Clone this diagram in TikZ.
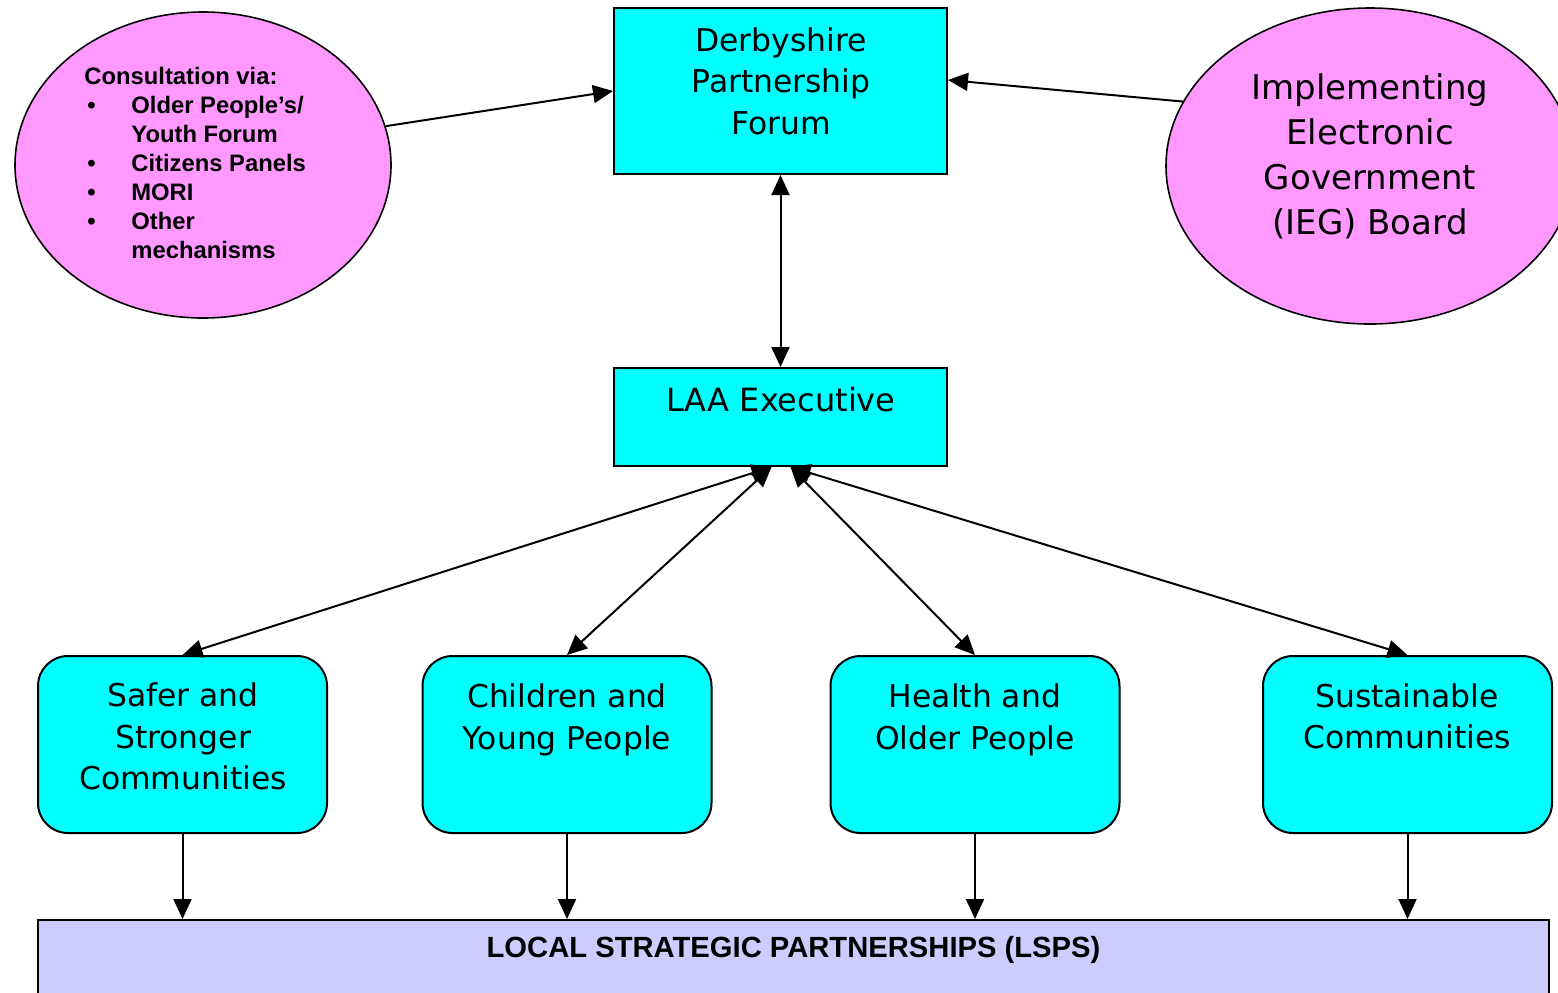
\documentclass[tikz,border=0pt]{standalone}
\usepackage{fontspec}
\setmainfont{DejaVu Sans}
\newfontfamily\arialbold{Liberation Sans}
\usetikzlibrary{shapes.geometric,arrows.meta}
\definecolor{boxcyan}{RGB}{0,255,255}
\definecolor{pinkfill}{HTML}{FF99FF}
\definecolor{lspfill}{HTML}{CCCCFF}

\begin{document}
\begin{tikzpicture}[x=0.5pt, y=-0.5pt,
	box/.style={draw, fill=boxcyan, line width=1pt, inner sep=0pt},
	theme/.style={box, rounded corners=15pt, minimum width=144.5pt, minimum height=88.5pt},
	oval/.style={ellipse, draw, fill=pinkfill, line width=0.8pt, inner sep=0pt},
	txt/.style={align=center, inner sep=0pt, font=\fontsize{15.7}{20.7}\selectfont},
	link/.style={line width=1pt, -{Triangle[length=10pt,width=9pt]}},
	twoway/.style={line width=1pt, {Triangle[length=10pt,width=9pt]}-{Triangle[length=10pt,width=9pt]}}]
	\useasboundingbox (0,0) rectangle (1558,992);

	\node[oval, minimum width=188pt, minimum height=153pt] (consult) at (203,165) {};
	\node[oval, minimum width=204pt, minimum height=158pt] (ieg) at (1370,166) {};
	\node[box, minimum width=166.5pt, minimum height=83pt] (dpf) at (780.5,91) {};
	\node[box, minimum width=166.5pt, minimum height=49pt] (laa) at (780.5,417) {};

	\node[theme] (safer) at (182.5,744.5) {};
	\node[theme] (children) at (567,744.5) {};
	\node[theme] (health) at (975,744.5) {};
	\node[theme] (sustain) at (1407.5,744.5) {};
	\node[box, fill=lspfill, minimum width=755.5pt, minimum height=45pt] (lsp) at (793.5,965) {};

	\node[align=left, inner sep=0pt, anchor=west, font=\arialbold\bfseries\fontsize{11.9}{14.5}\selectfont] (consult-text) at (84,163)
		{Consultation via:\\
		\makebox[23.5pt][l]{\hspace{1.5pt}\textbullet}Older People’s/\\
		\hspace*{23.5pt}Youth Forum\\
		\makebox[23.5pt][l]{\hspace{1.5pt}\textbullet}Citizens Panels\\
		\makebox[23.5pt][l]{\hspace{1.5pt}\textbullet}MORI\\
		\makebox[23.5pt][l]{\hspace{1.5pt}\textbullet}Other\\
		\hspace*{23.5pt}mechanisms};
	\node[txt, font=\fontsize{17}{22.5}\selectfont] (ieg-text) at (1370,156) {Implementing\\Electronic\\Government\\(IEG) Board};
	\node[txt] (dpf-text) at (781,81) {Derbyshire\\Partnership\\Forum};
	\node[txt, font=\fontsize{16}{20.5}\selectfont] (laa-text) at (781,400) {LAA Executive};
	\node[txt] (safer-text) at (183,736.5) {Safer and\\Stronger\\Communities};
	\node[txt] (children-text) at (567,720) {Children and\\Young People};
	\node[txt] (health-text) at (975,720) {Health and\\Older People};
	\node[txt] (sustain-text) at (1407,716) {Sustainable\\Communities};
	\node[inner sep=0pt, font=\arialbold\bfseries\fontsize{14.6}{17}\selectfont] (lsp-text) at (793.5,950) {LOCAL STRATEGIC PARTNERSHIPS (LSPS)};

	\draw[link] (consult.12) -- (dpf.west);
	\draw[link] (ieg.161) -- ([yshift=5.5pt]dpf.east);
	\draw[twoway] (dpf.south) -- (laa.north);
	\draw[twoway] ([xshift=-4.5pt]laa.south) -- (safer.north);
	\draw[twoway] ([xshift=-4.5pt]laa.south) -- (children.north);
	\draw[twoway] ([xshift=5pt]laa.south) -- (health.north);
	\draw[twoway] ([xshift=5pt]laa.south) -- (sustain.north);
	\draw[link] (safer.south) -- (safer.south |- lsp.north);
	\draw[link] (children.south) -- (children.south |- lsp.north);
	\draw[link] (health.south) -- (health.south |- lsp.north);
	\draw[link] (sustain.south) -- (sustain.south |- lsp.north);
\end{tikzpicture}
\end{document}
